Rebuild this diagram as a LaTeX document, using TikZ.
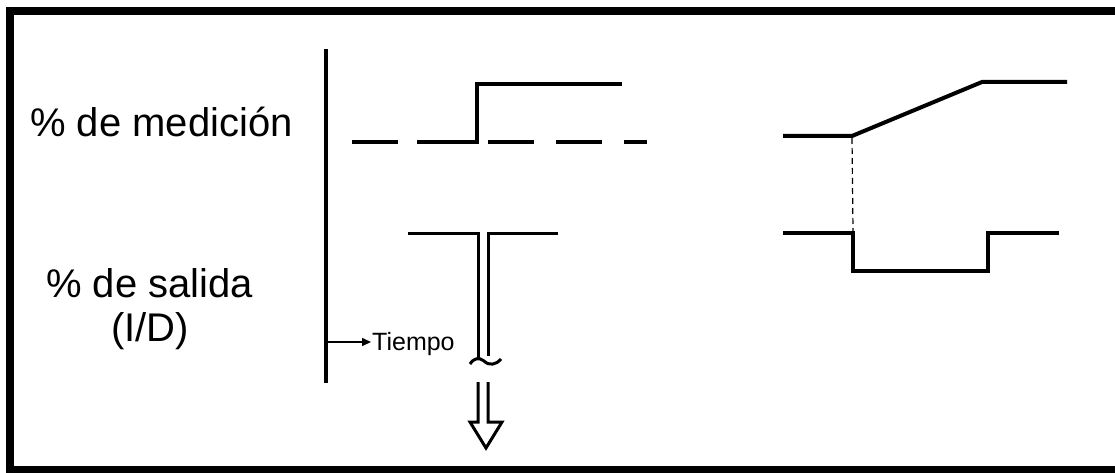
\documentclass[tikz,border=0pt]{standalone}
\usepackage{fontspec}
\setmainfont{Liberation Sans}
\usetikzlibrary{arrows.meta}
\begin{document}
\begin{tikzpicture}[x=1pt,y=-1pt,
  curve/.style={line width=4pt,line join=miter},
  lbl/.style={inner sep=0pt,anchor=base west,font=\fontsize{40}{45}\selectfont},
  dbl/.style={line width=3pt,line join=miter}]
\useasboundingbox (0,0) rectangle (1115,473);
\clip (0,0) rectangle (1115,473);
\draw[line width=8pt] (10,11) rectangle (1125,470);
% labels
\node[lbl] (med) at (30,137) {\% de medición};
\node[lbl] (sal) at (46,297) {\% de salida};
\node[lbl,anchor=base] (id) at (150,341) {(I/D)};
% axis
\draw[line width=4pt] (325.5,49) coordinate (axtop) -- (325.5,383) coordinate (axbot);
\coordinate (axt) at (325.5,342);
\node[inner sep=1pt,anchor=base west,font=\fontsize{25}{28}\selectfont] (tiempo) at (371,350) {Tiempo};
\draw[line width=1.5pt,-{Triangle[length=9pt,width=8pt]}] (axt) -- (axt -| tiempo.west);
% measurement step
\draw[curve,dash pattern=on 46pt off 22pt] (352,142) -- (647,142);
\draw[curve] (417,142) -- (477,142) -- (477,84) -- (622,84);
% output
\draw[dbl] (408,233) -- (478,233) -- (478,358);
\draw[dbl] (558,233) -- (488,233) -- (488,356);
\draw[line width=3pt] (470,364) .. controls (474,358) and (479,357) .. (484,361) .. controls (489,366) and (496,365) .. (501,359);
\draw[line width=3pt,line join=miter] (478,382) -- (478,422) -- (470,422) -- (486,448) -- (502,422) -- (488,422) -- (488,382);
% right upper
\draw[curve] (783,136) -- (852,136) -- (982,82) -- (1067,82);
\draw[line width=1.2pt,dash pattern=on 6pt off 4pt] (852,138) -- (853,231);
% right lower
\draw[curve] (783,233) -- (853,233) -- (853,271) -- (988,271) -- (988,233) -- (1059,233);
\end{tikzpicture}
\end{document}
